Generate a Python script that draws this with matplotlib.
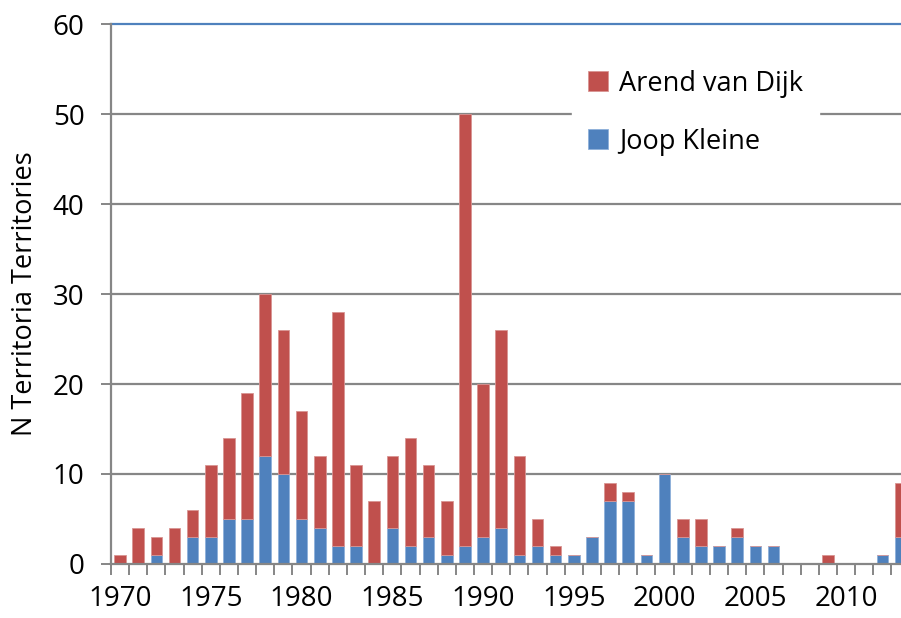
import numpy as np
import matplotlib.pyplot as plt
from matplotlib.ticker import FixedLocator, NullFormatter

# Data (stacked: Joop Kleine at bottom, Arend van Dijk on top)
years = list(range(1970, 2014))
joop = [0, 0, 1, 0, 3, 3, 5, 5, 12, 10,
        5, 4, 2, 2, 0, 4, 2, 3, 1, 2,
        3, 4, 1, 2, 1, 1, 3, 7, 7, 1,
        10, 3, 2, 2, 3, 2, 2, 0, 0, 0,
        0, 0, 1, 3]
total = [1, 4, 3, 4, 6, 11, 14, 19, 30, 26,
         17, 12, 28, 11, 7, 12, 14, 11, 7, 50,
         20, 26, 12, 5, 2, 1, 3, 9, 8, 1,
         10, 5, 5, 2, 4, 2, 2, 0, 0, 1,
         0, 0, 1, 9]
arend = [t - j for t, j in zip(total, joop)]
label_years = [1970, 1975, 1980, 1985, 1990, 1995, 2000, 2005, 2010]

red = '#C0504D'
blue = '#4F81BD'
grey = '#868686'

plt.rcParams['font.family'] = ['Open Sans', 'DejaVu Sans']

fig = plt.figure(figsize=(9.01, 6.18), dpi=100)
ax = fig.add_axes([111 / 901, 1 - 564 / 618, 798.6 / 901, 540 / 618])

ax.bar(years, joop, width=0.64, color=blue, edgecolor='#8DB0DA', linewidth=0.6,
       label='Joop Kleine', zorder=3)
ax.bar(years, arend, width=0.64, bottom=joop, color=red, edgecolor='#D99593',
       linewidth=0.6, label='Arend van Dijk', zorder=3)

ax.set_xlim(1969.5, 2013.5)
ax.set_ylim(0, 60)

# gridlines
for v in range(10, 60, 10):
    ax.axhline(v, color=grey, lw=1.6, zorder=1)
ax.axhline(60, color=blue, lw=1.6, zorder=1, clip_on=False)

for s in ['top', 'right']:
    ax.spines[s].set_visible(False)
for s in ['left', 'bottom']:
    ax.spines[s].set_color(grey)
    ax.spines[s].set_linewidth(1.6)
ax.spines['bottom'].set_zorder(4)

# x ticks at category boundaries, labels at centers
ax.xaxis.set_major_locator(FixedLocator(np.arange(1969.5, 2014, 1)))
ax.xaxis.set_major_formatter(NullFormatter())
ax.xaxis.set_minor_locator(FixedLocator(label_years))
ax.set_xticklabels([str(y) for y in label_years], minor=True)
ax.tick_params(axis='x', which='major', length=8, width=1.4, color=grey, direction='out')
ax.tick_params(axis='x', which='minor', length=0, labelsize=20, pad=15)

ax.set_yticks(range(0, 61, 10))
ax.tick_params(axis='y', length=7, width=1.4, color=grey, labelsize=20, pad=12)
ax.set_ylabel('N Territoria Territories', fontsize=19.5, labelpad=10)

handles, labels = ax.get_legend_handles_labels()
leg = ax.legend(handles[::-1], labels[::-1], loc='upper left',
                bbox_to_anchor=(558 / 901, 1 - 40 / 618), bbox_transform=fig.transFigure,
                frameon=True, fancybox=False, facecolor='white', edgecolor='white',
                framealpha=1, fontsize=19.5, handlelength=0.75, handleheight=0.75,
                handletextpad=0.4, labelspacing=1.1, borderpad=0.6)
leg.set_zorder(5)

fig.savefig('out.png', dpi=100)
